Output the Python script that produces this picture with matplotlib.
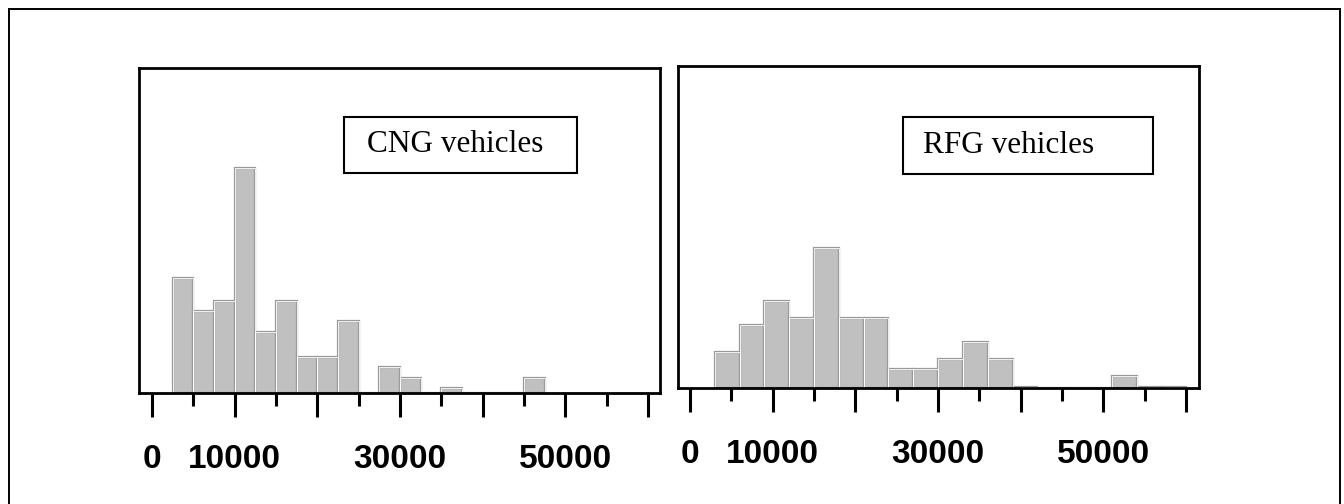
import numpy as np
import matplotlib.pyplot as plt
from matplotlib.patches import Rectangle

# CNG vehicles: bins of 2500 starting at 2500
cng_edges = np.arange(2500, 47500, 2500)
cng_counts = [22.5, 16, 18, 44, 12, 18, 7, 7, 14, 0, 5, 3, 0, 1, 0, 0, 0, 3]

# RFG vehicles: bins of 3000 starting at 3000
rfg_edges = np.arange(3000, 60000, 3000)
rfg_counts = [10.5, 18.5, 25.5, 20.5, 41, 20.5, 20.5, 5.5, 5.5, 8.5, 13.5, 8.5,
              0.4, 0, 0, 0, 3.4, 0.4, 0.4]

major_ticks = np.arange(0, 60001, 10000)
minor_ticks = np.arange(5000, 60000, 10000)
tick_labels = ["0", "10000", "", "30000", "", "50000", ""]

W, H = 1344, 504


def fig_rect(x0, y0, x1, y1):
    """pixel box (top-left origin) -> figure fraction [l, b, w, h]"""
    return [x0 / W, 1 - y1 / H, (x1 - x0) / W, (y1 - y0) / H]


def draw_panel(ax, edges, counts, width, xlim, ylim_top):
    ax.bar(edges, counts, width=width, align="edge", color="#c0c0c0",
           edgecolor="#9a9a9a", linewidth=1.6)
    ax.bar(edges, counts, width=width, align="edge", color="none",
           edgecolor="white", linewidth=0.6)
    ax.set_xlim(*xlim)
    ax.set_ylim(0, ylim_top)
    ax.set_yticks([])
    for s in ax.spines.values():
        s.set_linewidth(2.0)
    ax.set_xticks(major_ticks)
    ax.set_xticks(minor_ticks, minor=True)
    ax.set_xticklabels(tick_labels, fontfamily="Liberation Sans",
                       fontweight="bold", fontsize=24)
    ax.tick_params(axis="x", which="major", direction="out", length=17,
                   width=2.2, pad=20)
    ax.tick_params(axis="x", which="minor", direction="out", length=9,
                   width=2.2)


fig = plt.figure(figsize=(13.44, 5.04), dpi=100)

ax1 = fig.add_axes(fig_rect(139, 68, 660, 393))
draw_panel(ax1, cng_edges, cng_counts, 2500, (-1572, 61427), 63.6)

ax2 = fig.add_axes(fig_rect(678, 66, 1199, 388))
draw_panel(ax2, rfg_edges, rfg_counts, 3000, (-1451, 61548), 94)

# label boxes
for (x0, y0, x1, y1), tx, label in [((344, 117, 577, 173), 367, "CNG vehicles"),
                                    ((903, 117, 1153, 174), 923, "RFG vehicles")]:
    fig.add_artist(Rectangle((x0 / W, 1 - y1 / H), (x1 - x0) / W, (y1 - y0) / H,
                             transform=fig.transFigure, fill=False,
                             edgecolor="black", linewidth=1.5))
    fig.text(tx / W, 1 - (y0 + y1) / 2 / H, label, fontfamily="Liberation Serif",
             fontsize=22.5, va="center", ha="left")

# outer frame
fig.add_artist(Rectangle((9 / W, -0.05), (1340 - 9) / W, 1 - 9 / H + 0.05,
                         transform=fig.transFigure, fill=False,
                         edgecolor="black", linewidth=1.4))

fig.savefig("out.png", dpi=100)
